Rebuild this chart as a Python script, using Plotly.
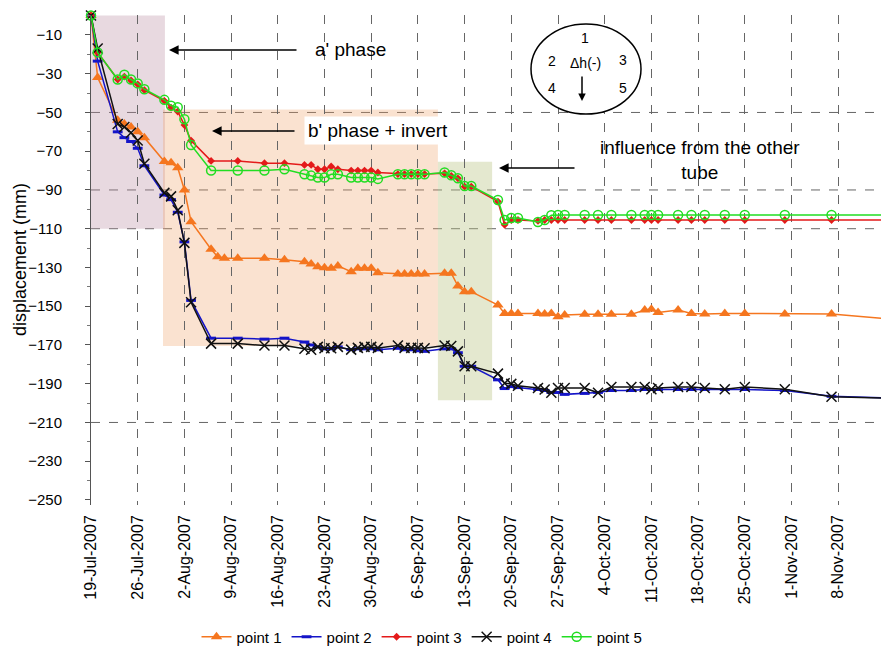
import plotly.graph_objects as go

# ---------------- data ----------------
dates_main = [
    "2007-07-19", "2007-07-20", "2007-07-23", "2007-07-24", "2007-07-25", "2007-07-26", "2007-07-27",
    "2007-07-30", "2007-07-31", "2007-08-01", "2007-08-02", "2007-08-03", "2007-08-06", "2007-08-10",
    "2007-08-14", "2007-08-17", "2007-08-20", "2007-08-21", "2007-08-22", "2007-08-23", "2007-08-24",
    "2007-08-25", "2007-08-27", "2007-08-28", "2007-08-29", "2007-08-30", "2007-08-31", "2007-09-03",
    "2007-09-04", "2007-09-05", "2007-09-06", "2007-09-07", "2007-09-10", "2007-09-11", "2007-09-12",
    "2007-09-13", "2007-09-14", "2007-09-18", "2007-09-19", "2007-09-20", "2007-09-21", "2007-09-24",
    "2007-09-25", "2007-09-26", "2007-09-27", "2007-09-28", "2007-10-01", "2007-10-03", "2007-10-05",
    "2007-10-08", "2007-10-10", "2007-10-11", "2007-10-12", "2007-10-15", "2007-10-17", "2007-10-19",
    "2007-10-22", "2007-10-25", "2007-10-31", "2007-11-07", "2007-11-22",
]
dates_p1 = [
    "2007-07-19", "2007-07-20", "2007-07-23", "2007-07-24", "2007-07-25", "2007-07-26", "2007-07-27",
    "2007-07-30", "2007-07-31", "2007-08-01", "2007-08-02", "2007-08-03", "2007-08-06", "2007-08-07",
    "2007-08-08", "2007-08-10",
    "2007-08-14", "2007-08-17", "2007-08-20", "2007-08-21", "2007-08-22", "2007-08-23", "2007-08-24",
    "2007-08-25", "2007-08-27", "2007-08-28", "2007-08-29", "2007-08-30", "2007-08-31", "2007-09-03",
    "2007-09-04", "2007-09-05", "2007-09-06", "2007-09-07", "2007-09-10", "2007-09-11", "2007-09-12",
    "2007-09-13", "2007-09-14", "2007-09-18", "2007-09-19", "2007-09-20", "2007-09-21", "2007-09-24",
    "2007-09-25", "2007-09-26", "2007-09-27", "2007-09-28", "2007-10-01", "2007-10-03", "2007-10-05",
    "2007-10-08", "2007-10-10", "2007-10-11", "2007-10-12", "2007-10-15", "2007-10-17", "2007-10-19",
    "2007-10-22", "2007-10-25", "2007-10-31", "2007-11-07", "2007-11-22",
]

point1 = [0, -32, -54, -56, -57.5, -60, -63, -75.3, -76, -78.5, -90, -106.4, -120.6, -124.5, -125.3,
          -125.3, -125.3, -126, -127, -128.2, -129.6, -130.1, -130.4, -129.2, -132.2, -130.4, -130.4,
          -130.4, -132.7, -133.4, -133.4, -133.4, -133.4, -133.4, -133, -133, -139.6, -142.5, -142.5,
          -149.4, -153.7, -153.7, -153.7, -153.7, -154, -153.7, -155.4, -154.5, -154.2, -154.2, -154.2,
          -154.2, -152, -151.6, -153.3, -152, -153.7, -154, -153.7, -153.7, -154, -154, -158.5]
point2 = [0, -23.5, -60, -63, -65, -68.5, -77.5, -92.6, -95, -101.5, -116.8, -147, -166.5, -166.5,
          -167, -166.5, -168.5, -170, -171, -172, -172, -171, -172.4, -172, -172, -172, -172.5, -171.7,
          -172.5, -172.5, -173, -173.3, -172, -172, -174, -181, -181, -188, -192.5, -191.5, -192, -193,
          -193.5, -194.5, -194.5, -195.5, -195, -194.5, -193.5, -193.5, -193, -193, -193, -193, -193,
          -193, -193, -193, -193.5, -196.5, -198]
point3 = [0, -19, -33, -31.5, -33.5, -35.5, -38.5, -44, -47.5, -49.5, -56.5, -64.5, -75, -75, -76.2,
          -76.2, -77.1, -77.1, -79.3, -79.3, -77.9, -79.3, -80, -80, -80, -80, -81, -81.8, -81.8, -81.8,
          -81.8, -81.8, -81.4, -82.8, -84, -88.3, -88.3, -96, -108, -105.5, -105.5, -106, -105.5,
          -105.5, -105.5, -105.5, -105.5, -105.5, -105.5, -105.5, -105.5, -105.5, -105.5, -105.5,
          -105.5, -105.5, -105.5, -105.5, -105.5, -105.5, -105.5]
point4 = [0, -17, -56, -57.5, -60.5, -64.5, -76.5, -91.5, -93.3, -100.5, -117.3, -148, -169.3, -169.3,
          -170.3, -170.3, -172, -172.5, -171, -171.7, -171.7, -171, -172.4, -171.5, -171, -171, -171.5,
          -170.3, -171.5, -171.5, -171.5, -171.7, -170.3, -170.5, -173.3, -181, -181, -184.8, -189.8,
          -190.1, -191.1, -192.2, -193, -194.7, -192.2, -192.2, -192.2, -194.7, -191.7, -191.7, -191.7,
          -192.9, -192.2, -191.7, -191.7, -192.2, -192.9, -191.7, -192.9, -196.7, -198]
point5 = [0, -19, -33, -30.5, -33, -35, -38, -43.5, -46.5, -47.3, -53.5, -66.8, -80, -80, -80, -79.3,
          -81.9, -82.6, -83.6, -83.6, -81.9, -81.9, -83.6, -83.6, -83.6, -83.6, -84.3, -81.9, -81.9,
          -81.9, -81.9, -81.9, -81, -82.4, -84, -88, -88, -95.2, -105.5, -104.5, -104.5, -106.5, -105.5,
          -103, -102.9, -102.9, -102.9, -102.9, -102.9, -102.9, -102.9, -102.9, -102.9, -102.9, -102.9,
          -102.9, -102.9, -102.9, -102.9, -102.9, -102.9]

series_names = ["point 1", "point 2", "point 3", "point 4", "point 5"]
y_tick_start, y_tick_step = -10, 20
grid_y_values = [-50, -90, -110, -210]

# ---------------- figure ----------------
W, H = 881, 653
L, R, T, B = 91, 0, 15, 148
PW, PH = W - L - R, H - T - B


def fx(px):
    return (px - L) / PW


def fy(py):
    return (H - B - py) / PH


FONT = "Liberation Sans, Arial, sans-serif"

styles = [
    dict(color="#F5761F", symbol="triangle-up", size=10, lw=0),
    dict(color="#1414C8", symbol="line-ew", size=7, lw=3),
    dict(color="#E41A1A", symbol="diamond", size=6, lw=0),
    dict(color="#111111", symbol="x-thin", size=10, lw=1.5),
    dict(color="#22DD22", symbol="circle-open", size=9, lw=1.5),
]
xs = [dates_p1, dates_main, dates_main, dates_main, dates_main]
ys = [point1, point2, point3, point4, point5]

fig = go.Figure()
for name, x, y, st in zip(series_names, xs, ys, styles):
    fig.add_trace(go.Scatter(
        x=x, y=y, name=name, mode="lines+markers", cliponaxis=False,
        line=dict(color=st["color"], width=1.5),
        marker=dict(symbol=st["symbol"], size=st["size"], color=st["color"],
                    line=dict(color=st["color"], width=st["lw"])),
    ))

# phase boxes (annotation decoration)
phase_boxes = [
    ("2007-07-19", "2007-07-30 02:00", 0, -110, "rgba(185,140,160,0.33)"),
    ("2007-07-29 19:00", "2007-09-09 00:00", -48.5, -170.5, "rgba(240,160,100,0.30)"),
    ("2007-09-09 00:00", "2007-09-17 03:00", -75.5, -198.5, "rgba(185,195,130,0.38)"),
]
shapes = []
for x0, x1, y1, y0, col in phase_boxes:
    shapes.append(dict(type="rect", xref="x", yref="y", x0=x0, x1=x1, y0=y0, y1=y1,
                       fillcolor=col, line=dict(width=0), layer="below"))
for gy in grid_y_values:
    shapes.append(dict(type="line", xref="paper", yref="y", x0=0, x1=1, y0=gy, y1=gy,
                       line=dict(color="#666666", width=1, dash="dash"), layer="below"))
# ellipse diagram
shapes.append(dict(type="circle", xref="paper", yref="paper", x0=fx(531), x1=fx(641),
                   y0=fy(114), y1=fy(24), line=dict(color="black", width=1.5),
                   fillcolor="white", layer="above"))

ann = []
big = dict(family=FONT, size=19, color="black")
ann.append(dict(xref="paper", yref="paper", x=fx(350), y=fy(50), text="a' phase", showarrow=False,
                font=big, xanchor="center", yanchor="middle"))
ann.append(dict(xref="paper", yref="paper", x=fx(378), y=fy(131), text="b' phase + invert",
                showarrow=False, font=big, xanchor="center", yanchor="middle", bgcolor="white",
                borderpad=3))
ann.append(dict(xref="paper", yref="paper", x=fx(700), y=fy(160),
                text="influence from the other<br>tube", showarrow=False, font=big,
                xanchor="center", yanchor="middle"))
for hx, hy, tx in [(169, 50, 298), (212, 131, 296), (499, 168, 576)]:
    ann.append(dict(xref="paper", yref="paper", x=fx(hx), y=fy(hy), ax=tx - hx, ay=0, text="",
                    showarrow=True, arrowhead=2, arrowsize=1.2, arrowwidth=1.6, arrowcolor="black"))
small = dict(family=FONT, size=14, color="black")
for t, x, y in [("1", 585, 38), ("2", 552, 61), ("Δh(-)", 585, 63), ("3", 623, 60),
                ("4", 552, 88), ("5", 623, 88)]:
    ann.append(dict(xref="paper", yref="paper", x=fx(x), y=fy(y), text=t, showarrow=False,
                    font=small, xanchor="center", yanchor="middle"))
ann.append(dict(xref="paper", yref="paper", x=fx(582), y=fy(101), ax=0, ay=-26, text="",
                showarrow=True, arrowhead=2, arrowsize=1, arrowwidth=1.5, arrowcolor="black"))
ann.append(dict(xref="paper", yref="paper", x=fx(20), y=fy(260), text="displacement (mm)",
                textangle=-90, showarrow=False, font=dict(family=FONT, size=18, color="black"),
                xanchor="center", yanchor="middle"))

fig.update_layout(
    width=W, height=H, margin=dict(l=L, r=R, t=T, b=B, autoexpand=False),
    paper_bgcolor="white", plot_bgcolor="white",
    font=dict(family=FONT, color="black"),
    shapes=shapes, annotations=ann,
    showlegend=True,
    legend=dict(orientation="h", x=fx(422), y=fy(637), xanchor="center", yanchor="middle",
                font=dict(family="Liberation Sans Narrow, Liberation Sans, Arial", size=15),
                bgcolor="rgba(0,0,0,0)", itemwidth=30, tracegroupgap=0),
)
fig.update_xaxes(
    type="date", range=["2007-07-19", "2007-11-14 10:00"],
    tick0="2007-07-19", dtick=7 * 24 * 3600 * 1000, tickformat="%-d-%b-%Y", tickangle=-90,
    tickfont=dict(family=FONT, size=16, color="black"),
    showgrid=True, gridcolor="#666666", griddash="dash", gridwidth=1,
    showline=False, zeroline=False, ticks="", ticklabelstandoff=6,
)
fig.update_yaxes(
    range=[-252.6, 0.3], tick0=y_tick_start, dtick=y_tick_step,
    tickfont=dict(family=FONT, size=15, color="black"),
    showgrid=False, zeroline=False, showline=True, linecolor="#555555", linewidth=1,
    ticks="outside", ticklen=5, tickcolor="#555555", ticklabelstandoff=20,
    minor=dict(dtick=10, tick0=0, ticks="outside", ticklen=3, tickcolor="#777777"),
)
fig.write_html("out.html", config={"displayModeBar": False},
               post_script="document.body.style.margin='0';")
